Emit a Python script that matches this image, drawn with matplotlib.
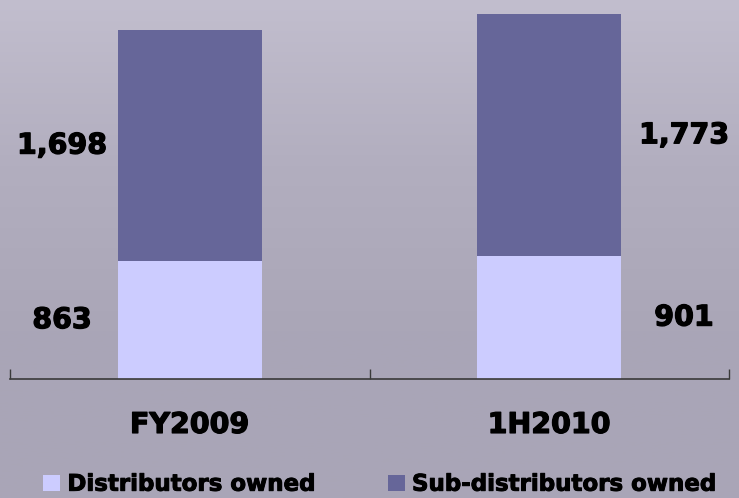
import numpy as np
import matplotlib
matplotlib.use("Agg")
import matplotlib.pyplot as plt
import matplotlib.patheffects as pe
from matplotlib.colors import LinearSegmentedColormap

# data
periods = ['FY2009', '1H2010']
distributors = [863, 901]
sub_distributors = [1698, 1773]
series_names = ['Distributors owned', 'Sub-distributors owned']

light = '#ccccff'
dark = '#666699'

plt.rcParams['font.family'] = ['DejaVu Sans']
plt.rcParams['font.weight'] = 'bold'

# slightly heavier text, the original font is a chunky bold
heavy = [pe.withStroke(linewidth=0.9, foreground='black')]

fig = plt.figure(figsize=(7.39, 4.98), dpi=100)

# background that stands in for the photo behind the chart
bg = fig.add_axes([0, 0, 1, 1], zorder=-1)
cmap = LinearSegmentedColormap.from_list('bg', ['#c2bece', '#b2aebf', '#aaa6b7', '#a9a5b7'])
grad = np.linspace(0, 1, 256).reshape(-1, 1)
bg.imshow(grad, aspect='auto', cmap=cmap, extent=[0, 1, 0, 1], origin='upper')
bg.axis('off')

ax = fig.add_axes([10 / 739, 119 / 498, 719 / 739, 379 / 498])
ax.patch.set_alpha(0)

x = np.arange(len(periods))
b1 = ax.bar(x, distributors, width=0.40, color=light, label=series_names[0])
b2 = ax.bar(x, sub_distributors, width=0.40, bottom=distributors, color=dark, label=series_names[1])

ax.set_xlim(-0.5, 1.5)
ax.set_ylim(0, 2780)

for s in ['top', 'right', 'left']:
    ax.spines[s].set_visible(False)
ax.spines['bottom'].set_color('#3a3a3a')
ax.spines['bottom'].set_linewidth(1.2)
ax.set_yticks([])

ax.set_xticks(x)
ax.set_xticklabels(periods, fontsize=20.5, fontweight='bold')
for lbl in ax.get_xticklabels():
    lbl.set_path_effects(heavy)
ax.tick_params(axis='x', which='major', length=0, pad=23)
ax.set_xticks([-0.5, 0.5, 1.5], minor=True)
ax.tick_params(axis='x', which='minor', direction='in', length=7, width=1.0, color='#3a3a3a')

# value labels: left of first bar, right of second bar
offsets = [-0.355, 0.375]
for i in range(len(periods)):
    ax.text(x[i] + offsets[i], distributors[i] / 2, f'{distributors[i]:,}',
            ha='center', va='center', fontsize=20.5, fontweight='bold',
            path_effects=heavy)
    ax.text(x[i] + offsets[i], distributors[i] + sub_distributors[i] / 2,
            f'{sub_distributors[i]:,}', ha='center', va='center',
            fontsize=20.5, fontweight='bold', path_effects=heavy)

leg = fig.legend(handles=[b1, b2], loc='lower left', bbox_to_anchor=(41 / 739, 0.0),
                 ncol=2, frameon=False, fontsize=16.5, handlelength=0.75,
                 handleheight=0.7, handletextpad=0.3, columnspacing=3.2,
                 borderpad=0.1, borderaxespad=0)
for t in leg.get_texts():
    t.set_path_effects([pe.withStroke(linewidth=0.7, foreground='black')])

fig.savefig('out.png', dpi=100)
